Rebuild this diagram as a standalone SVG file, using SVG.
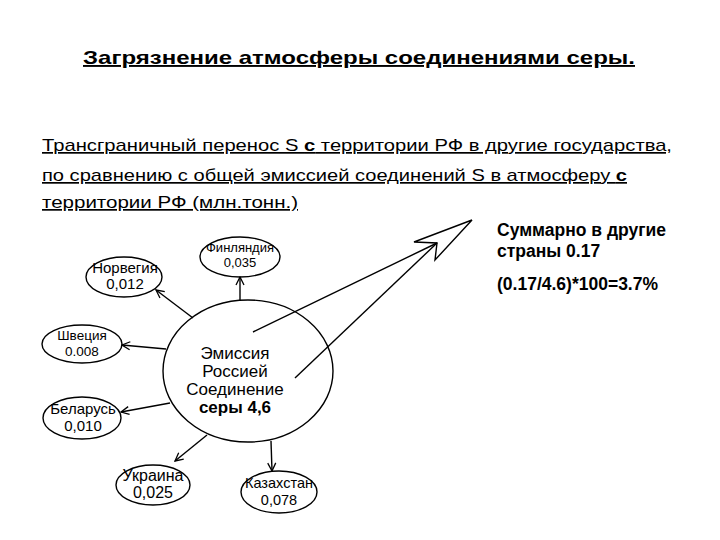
<svg xmlns="http://www.w3.org/2000/svg" width="720" height="540" viewBox="0 0 720 540">
<defs>
<marker id="arr" markerWidth="10" markerHeight="10" refX="9" refY="5" orient="auto" markerUnits="userSpaceOnUse">
<path d="M1,1 L9,5 L1,9" fill="none" stroke="#000" stroke-width="1.3"/>
</marker>
</defs>
<style>
.t{font-family:"Liberation Sans",Arial,sans-serif;fill:#000}
.node ellipse{fill:#fff;stroke:#000;stroke-width:1.4}
.nt{font-family:"Liberation Sans",Arial,sans-serif;text-anchor:middle;fill:#000}
.ct{font-family:"Liberation Sans",Arial,sans-serif;font-size:17px;text-anchor:middle;fill:#000}
.edge{stroke:#000;stroke-width:1.4;fill:none}
</style>
<rect width="720" height="540" fill="#fff"/>
<text class="t" x="83" y="64" font-size="19" font-weight="bold" text-decoration="underline" textLength="552" lengthAdjust="spacingAndGlyphs">Загрязнение атмосферы соединениями серы.</text>
<g class="t" font-size="17" text-decoration="underline">
<text x="42" y="151" textLength="630" lengthAdjust="spacingAndGlyphs">Трансграничный перенос S <tspan font-weight="bold">с</tspan> территории РФ в другие государства,</text>
<text x="42" y="181" textLength="585" lengthAdjust="spacingAndGlyphs">по сравнению с общей эмиссией соединений S в атмосферу <tspan font-weight="bold">с</tspan></text>
<text x="42" y="208" textLength="256" lengthAdjust="spacingAndGlyphs">территории РФ (млн.тонн.)</text>
</g>
<g id="main" class="node">
<ellipse cx="248" cy="371" rx="85" ry="71"/>
<text class="ct" x="235" y="359">Эмиссия</text>
<text class="ct" x="235" y="377">Россией</text>
<text class="ct" x="235" y="395">Соединение</text>
<text class="ct" x="235" y="413" font-weight="bold">серы 4,6</text>
</g>
<g id="finland" class="node" font-size="13">
<ellipse cx="240" cy="257" rx="40" ry="20"/>
<text class="nt" x="240" y="252">Финляндия</text>
<text class="nt" x="240" y="267">0,035</text>
</g>
<g id="norway" class="node" font-size="15">
<ellipse cx="124" cy="277" rx="38" ry="20"/>
<text class="nt" x="125" y="273">Норвегия</text>
<text class="nt" x="125" y="289">0,012</text>
</g>
<g id="sweden" class="node" font-size="13.5">
<ellipse cx="82" cy="344" rx="40" ry="19"/>
<text class="nt" x="82" y="340">Швеция</text>
<text class="nt" x="82" y="356">0.008</text>
</g>
<g id="belarus" class="node" font-size="15">
<ellipse cx="82" cy="418" rx="39" ry="21"/>
<text class="nt" x="83" y="414">Беларусь</text>
<text class="nt" x="83" y="431">0,010</text>
</g>
<g id="ukraine" class="node" font-size="16">
<ellipse cx="153" cy="485" rx="37" ry="20"/>
<text class="nt" x="153" y="481">Украина</text>
<text class="nt" x="153" y="498">0,025</text>
</g>
<g id="kazakhstan" class="node" font-size="14.5">
<ellipse cx="279" cy="492" rx="38" ry="21"/>
<text class="nt" x="279" y="488">Казахстан</text>
<text class="nt" x="279" y="505">0,078</text>
</g>
<g id="connectors">
<line class="edge" x1="240" y1="300" x2="240" y2="277" marker-end="url(#arr)"/>
<line class="edge" x1="193" y1="318" x2="156" y2="290" marker-end="url(#arr)"/>
<line class="edge" x1="166" y1="349" x2="122" y2="345" marker-end="url(#arr)"/>
<line class="edge" x1="170" y1="403" x2="121" y2="412" marker-end="url(#arr)"/>
<line class="edge" x1="207" y1="435" x2="175" y2="461" marker-end="url(#arr)"/>
<line class="edge" x1="271" y1="441" x2="272" y2="471" marker-end="url(#arr)"/>
<line class="edge" x1="253" y1="332" x2="437" y2="243"/>
<line class="edge" x1="295" y1="378" x2="437" y2="243"/>
<polygon class="edge" points="472,220 414,242 437,243 435,260"/>
</g>
<g class="t" font-size="17.5" font-weight="bold">
<text x="497" y="236">Суммарно в другие</text>
<text x="497" y="257">страны 0.17</text>
<text x="497" y="290">(0.17/4.6)*100=3.7%</text>
</g>
</svg>
